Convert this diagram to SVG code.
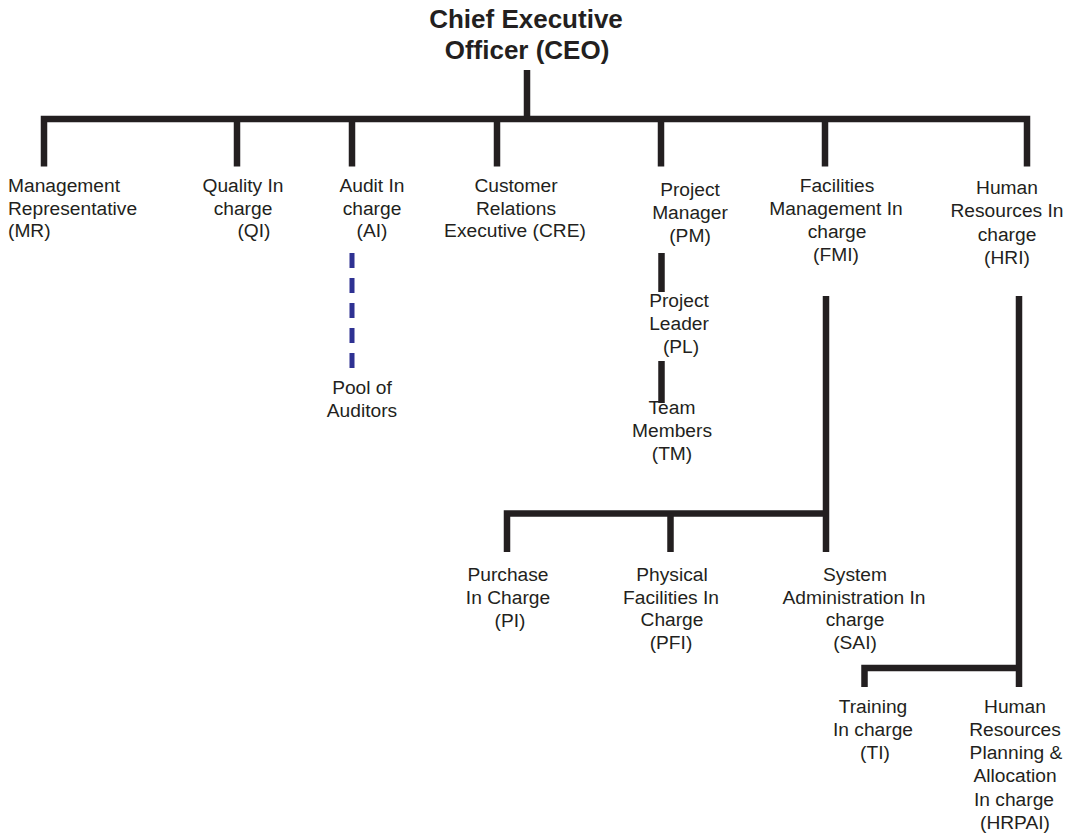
<svg xmlns="http://www.w3.org/2000/svg" width="1072" height="834" viewBox="0 0 1072 834">
<defs>
<style>
.t{font-family:"Liberation Sans",Arial,sans-serif;font-size:19.2px;fill:#231f20;text-anchor:middle}
.l{text-anchor:start}
.title{font-family:"Liberation Sans",Arial,sans-serif;font-size:26px;font-weight:bold;fill:#231f20;text-anchor:middle}
.c{fill:none;stroke:#231f20;stroke-width:6.5;stroke-linejoin:miter;stroke-linecap:butt}
.d{fill:none;stroke:#2e3192;stroke-width:5;stroke-dasharray:15 10}
</style>
</defs>
<rect width="1072" height="834" fill="#ffffff"/>
<g id="connectors">
<path class="c" d="M527,70 V119"/>
<path class="c" d="M44,166.5 V119 H1027 V166.5"/>
<path class="c" d="M237,119 V166.5"/>
<path class="c" d="M352,119 V166.5"/>
<path class="c" d="M497,119 V166.5"/>
<path class="c" d="M661,119 V166.5"/>
<path class="c" d="M825,119 V166.5"/>
<path class="d" d="M352,253 V368"/>
<path class="c" d="M661.5,253 V292"/>
<path class="c" d="M661.5,361 V403"/>
<path class="c" d="M826,296 V552"/>
<path class="c" d="M507,552 V513.5 H826"/>
<path class="c" d="M670.5,513.5 V552"/>
<path class="c" d="M1019,296 V687"/>
<path class="c" d="M864.5,687 V668 H1019"/>
</g>
<g id="ceo">
<text class="title" x="526" y="28">Chief Executive</text>
<text class="title" x="527" y="59">Officer (CEO)</text>
</g>
<g id="mr">
<text class="t l" x="8" y="192">Management</text>
<text class="t l" x="8" y="214.5">Representative</text>
<text class="t l" x="8" y="237">(MR)</text>
</g>
<g id="qi">
<text class="t" x="243" y="192">Quality In</text>
<text class="t" x="243" y="214.5">charge</text>
<text class="t" x="254" y="237">(QI)</text>
</g>
<g id="ai">
<text class="t" x="372" y="192">Audit In</text>
<text class="t" x="372" y="214.5">charge</text>
<text class="t" x="372" y="237">(AI)</text>
</g>
<g id="cre">
<text class="t" x="516" y="192">Customer</text>
<text class="t" x="516" y="214.5">Relations</text>
<text class="t" x="515" y="237">Executive (CRE)</text>
</g>
<g id="pm">
<text class="t" x="690" y="196">Project</text>
<text class="t" x="690" y="219">Manager</text>
<text class="t" x="690" y="242">(PM)</text>
</g>
<g id="fmi">
<text class="t" x="837" y="192">Facilities</text>
<text class="t" x="836" y="215">Management In</text>
<text class="t" x="837" y="238">charge</text>
<text class="t" x="836" y="261">(FMI)</text>
</g>
<g id="hri">
<text class="t" x="1007" y="194">Human</text>
<text class="t" x="1007" y="217">Resources In</text>
<text class="t" x="1007" y="241">charge</text>
<text class="t" x="1007" y="264">(HRI)</text>
</g>
<g id="pool">
<text class="t" x="362" y="394">Pool of</text>
<text class="t" x="362" y="417">Auditors</text>
</g>
<g id="pl">
<text class="t" x="679" y="307">Project</text>
<text class="t" x="679" y="330">Leader</text>
<text class="t" x="681" y="353">(PL)</text>
</g>
<g id="tm">
<text class="t" x="672" y="414">Team</text>
<text class="t" x="672" y="437">Members</text>
<text class="t" x="672" y="460">(TM)</text>
</g>
<g id="pi">
<text class="t" x="508" y="581">Purchase</text>
<text class="t" x="508" y="604">In Charge</text>
<text class="t" x="510" y="627">(PI)</text>
</g>
<g id="pfi">
<text class="t" x="672" y="581">Physical</text>
<text class="t" x="671" y="604">Facilities In</text>
<text class="t" x="672" y="626">Charge</text>
<text class="t" x="671" y="649">(PFI)</text>
</g>
<g id="sai">
<text class="t" x="855" y="581">System</text>
<text class="t" x="854" y="604">Administration In</text>
<text class="t" x="855" y="626">charge</text>
<text class="t" x="855" y="649">(SAI)</text>
</g>
<g id="ti">
<text class="t" x="873" y="713">Training</text>
<text class="t" x="873" y="736">In charge</text>
<text class="t" x="875" y="759">(TI)</text>
</g>
<g id="hrpai">
<text class="t" x="1015" y="713">Human</text>
<text class="t" x="1015" y="736">Resources</text>
<text class="t" x="1016" y="759">Planning &amp;</text>
<text class="t" x="1015" y="782">Allocation</text>
<text class="t" x="1014" y="806">In charge</text>
<text class="t" x="1015" y="829">(HRPAI)</text>
</g>
</svg>
